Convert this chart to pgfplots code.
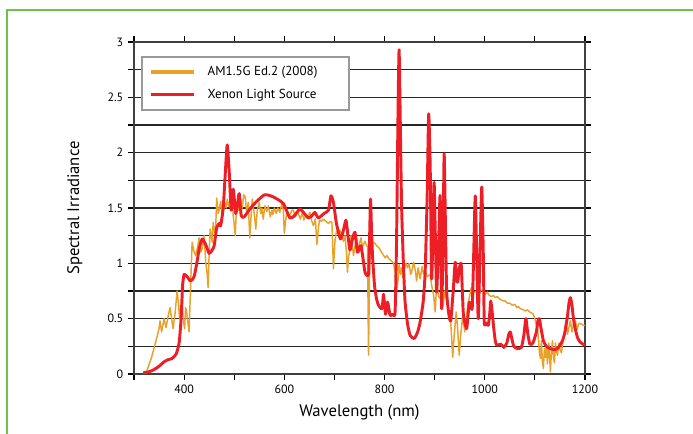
\documentclass[border=0pt]{standalone}
\usepackage{fontspec}
\setmainfont{PT Sans}
\usepackage{pgfplots}
\pgfplotsset{compat=1.18}
\definecolor{amorange}{RGB}{232,162,42}
\definecolor{xered}{RGB}{237,30,38}
\definecolor{framegreen}{RGB}{104,196,74}

\begin{document}
\begin{tikzpicture}
\path[use as bounding box] (0,0) rectangle (519.75pt,324.75pt);
\draw[framegreen, line width=1pt] (5.25pt,-20pt) |- (560pt,317.25pt);
\begin{axis}[
    at={(100.5pt,44.25pt)}, anchor=south west,
    scale only axis, width=338.25pt, height=249pt,
    xmin=300, xmax=1200, ymin=0, ymax=3,
    xtick={400,600,800,1000,1200},
    minor xtick={300,500,700,900,1100},
    ytick={0,0.5,1,1.5,2,2.5,3},
    yticklabels={0,0.5,1,1.5,2,2.5,3},
    minor ytick={0.25,0.75,1.25,1.75,2.25,2.75},
    /pgf/number format/assume math mode=true,
    /pgf/number format/1000 sep={},
    tick align=outside,
    major tick length=4.5pt, minor tick length=4.5pt,
    every tick/.style={black, line width=0.8pt},
    ymajorgrids, yminorgrids,
    major grid style={black!85, line width=0.9pt},
    minor grid style={black!85, line width=0.9pt},
    axis line style={black!75, line width=1.1pt},
    tick label style={font=\fontsize{9}{10}\selectfont},
    label style={font=\fontsize{12.5}{14}\selectfont},
    xlabel={Wavelength (nm)},
    ylabel={Spectral Irradiance},
    xlabel style={at={(axis description cs:0.5,-0.1145)}, anchor=center},
    ylabel style={at={(axis description cs:-0.131,0.5)}, anchor=center},
    legend cell align=left,
    legend image code/.code={\draw[#1, line width=2.4pt] (0pt,0pt) -- (32pt,0pt);},
    legend style={at={(0.015,0.958)}, anchor=north west,
      draw=black!40, line width=1.6pt,
      font=\fontsize{9.8}{11}\selectfont,
      inner xsep=6pt, inner ysep=5pt, row sep=4.5pt,
      /tikz/every odd column/.append style={column sep=7pt}},
  ]
  % AM1.5G reference spectrum
  \addplot[amorange, line width=1.1pt, line join=round] coordinates {
    (325,0.02)(335,0.15)(345,0.32)(350,0.41)(352,0.48)(355,0.38)(358,0.45)(360,0.50)
    (364,0.42)(368,0.52)(372,0.60)(375,0.50)(378,0.41)(382,0.55)(386,0.75)(389,0.62)
    (391,0.50)(394,0.62)(396,0.65)(398,0.50)(401,0.41)(403,0.60)(405,0.56)(408,0.45)
    (410,0.38)(413,0.80)(416,1.19)(419,1.12)(423,1.07)(427,1.15)(430,1.23)(433,1.10)
    (436,1.13)(440,1.25)(443,1.02)(446,0.90)(448,0.78)(450,1.10)(452,1.31)(455,1.22)
    (456,1.19)(458,1.37)(461,1.28)(463,1.32)(465,1.59)(468,1.45)(470,1.49)(473,1.56)
    (476,1.42)(478,1.47)(481,1.55)(484,1.50)(486,1.58)(489,1.52)(493,1.50)(496,1.60)
    (498,1.43)(500,1.35)(502,1.25)(504,1.45)(506,1.52)(509,1.48)(513,1.58)(516,1.50)
    (519,1.62)(522,1.60)(525,1.45)(528,1.55)(531,1.23)(534,1.45)(536,1.58)(538,1.52)
    (540,1.45)(543,1.31)(546,1.48)(550,1.55)(553,1.45)(555,1.50)(558,1.40)(561,1.52)
    (565,1.47)(568,1.52)(572,1.42)(575,1.48)(577,1.44)(580,1.50)(584,1.45)(587,1.50)
    (591,1.46)(595,1.54)(598,1.48)(600,1.27)(603,1.40)(605,1.46)(610,1.42)(615,1.48)
    (618,1.48)(622,1.42)(625,1.46)(628,1.45)(632,1.40)(636,1.46)(639,1.39)(643,1.44)
    (647,1.42)(651,1.46)(655,1.38)(658,1.34)(662,1.40)(665,1.17)(668,1.32)(670,1.39)
    (674,1.38)(678,1.40)(683,1.38)(688,1.36)(692,1.38)(695,1.37)(698,0.95)(701,1.20)
    (704,1.29)(708,1.28)(711,1.30)(714,1.27)(718,1.20)(721,1.25)(724,1.10)(726,0.92)
    (728,1.05)(731,1.13)(733,1.25)(736,1.15)(738,1.07)(742,1.18)(745,1.22)(748,1.10)
    (751,1.20)(753,1.23)(756,1.15)(758,1.17)(761,1.20)(764,1.16)(766,1.15)(768,0.17)
    (770,0.90)(771,1.13)(775,1.16)(778,1.19)(781,1.18)(784,1.16)(789,1.14)(794,1.10)
    (797,1.08)(801,1.05)(805,1.07)(809,1.04)(814,1.02)(818,1.00)(821,0.92)(824,0.75)
    (827,0.85)(829,0.99)(832,0.90)(834,0.96)(837,0.87)(840,0.96)(843,1.00)(846,0.96)
    (849,1.00)(852,0.90)(854,0.92)(858,1.01)(862,0.92)(864,0.84)(867,0.96)(871,0.86)
    (875,0.97)(878,0.90)(881,0.93)(885,0.88)(891,0.90)(894,0.80)(898,0.71)(901,0.56)
    (904,0.81)(908,0.70)(911,0.68)(914,0.72)(917,0.62)(920,0.75)(923,0.68)(927,0.60)
    (931,0.53)(933,0.40)(936,0.15)(939,0.35)(943,0.56)(946,0.40)(949,0.17)(952,0.35)
    (956,0.53)(958,0.45)(960,0.38)(963,0.50)(966,0.62)(970,0.71)(973,0.78)(976,0.72)
    (980,0.74)(984,0.75)(988,0.73)(992,0.76)(997,0.75)(1001,0.72)(1005,0.74)(1009,0.71)
    (1013,0.70)(1017,0.71)(1021,0.69)(1025,0.70)(1029,0.68)(1033,0.67)(1037,0.66)
    (1041,0.66)(1045,0.64)(1050,0.64)(1055,0.62)(1060,0.63)(1064,0.60)(1067,0.61)
    (1071,0.59)(1077,0.58)(1081,0.57)(1085,0.58)(1090,0.56)(1094,0.55)(1097,0.54)
    (1100,0.50)(1103,0.44)(1106,0.38)(1109,0.20)(1111,0.14)(1113,0.30)(1115,0.11)
    (1117,0.05)(1119,0.23)(1121,0.15)(1123,0.25)(1125,0.09)(1128,0.28)(1131,0.02)
    (1133,0.20)(1135,0.30)(1137,0.15)(1139,0.10)(1141,0.28)(1143,0.20)(1145,0.17)
    (1148,0.28)(1150,0.22)(1153,0.19)(1156,0.30)(1159,0.38)(1162,0.48)(1165,0.36)
    (1168,0.42)(1171,0.48)(1174,0.38)(1177,0.45)(1181,0.48)(1184,0.40)(1187,0.45)
    (1190,0.46)(1193,0.45)(1197,0.44)(1200,0.44)
  };
  \addlegendentry{AM1.5G Ed.2 (2008)}
  % Xenon lamp spectrum
  \addplot[xered, line width=2.2pt, line join=round, smooth, tension=0.35] coordinates {
    (318,0.01)(330,0.02)(340,0.04)(350,0.07)(360,0.11)(368,0.13)(376,0.14)(384,0.18)
    (390,0.28)(394,0.50)(397,0.80)(400,0.90)(406,0.88)(413,0.84)(420,0.88)(426,1.02)
    (430,1.13)(436,1.22)(443,1.17)(450,1.09)(456,1.12)(460,1.16)(465,1.32)(470,1.36)
    (473,1.34)(478,1.50)(482,1.80)(486,2.07)(490,1.83)(494,1.48)(498,1.67)(503,1.45)
    (507,1.55)(510,1.63)(514,1.43)(520,1.42)(531,1.49)(545,1.56)(561,1.62)(578,1.60)
    (598,1.54)(611,1.41)(620,1.43)(631,1.49)(640,1.45)(648,1.41)(655,1.43)(661,1.46)
    (668,1.41)(679,1.45)(688,1.48)(693,1.61)(698,1.55)(704,1.36)(712,1.22)(718,1.30)
    (723,1.39)(727,1.25)(731,1.12)(736,1.22)(741,1.28)(746,1.10)(753,1.16)(761,0.92)
    (768,0.90)(770,1.20)(772,1.58)(774,1.30)(776,1.07)(780,0.80)(784,0.68)(788,0.62)
    (795,0.59)(798,0.72)(802,0.54)(806,0.65)(811,0.53)(816,0.54)(821,0.56)(824,1.22)
    (827,2.40)(829,2.93)(831,2.40)(834,1.52)(838,0.95)(841,0.65)(846,0.45)(851,0.35)
    (859,0.32)(866,0.38)(871,0.47)(877,0.65)(881,0.92)(885,1.60)(888,2.35)(891,1.90)
    (894,0.86)(897,1.40)(899,1.73)(902,1.10)(904,0.74)(908,1.20)(911,1.61)(914,0.59)
    (917,1.30)(919,1.99)(922,1.20)(924,0.74)(928,0.55)(932,0.48)(937,0.75)(941,1.01)
    (944,0.85)(946,0.83)(949,0.95)(953,0.99)(957,0.56)(961,0.45)(964,0.41)(967,0.55)
    (969,0.65)(972,0.62)(975,0.60)(978,1.10)(981,1.61)(984,1.05)(987,0.50)(991,1.20)
    (994,1.69)(997,1.10)(999,0.47)(1003,0.46)(1007,0.44)(1010,0.55)(1012,0.66)
    (1015,0.55)(1018,0.41)(1021,0.30)(1024,0.26)(1032,0.27)(1038,0.24)(1044,0.28)
    (1048,0.36)(1051,0.38)(1054,0.32)(1058,0.25)(1065,0.23)(1073,0.24)(1078,0.35)
    (1082,0.50)(1086,0.36)(1090,0.27)(1096,0.28)(1103,0.38)(1106,0.48)(1109,0.50)
    (1112,0.42)(1117,0.30)(1123,0.25)(1130,0.23)(1140,0.22)(1147,0.24)(1155,0.30)
    (1160,0.38)(1165,0.52)(1168,0.64)(1171,0.69)(1174,0.62)(1177,0.50)(1180,0.42)
    (1185,0.33)(1190,0.29)(1196,0.27)(1200,0.26)
  };
  \addlegendentry{\makebox[98pt][l]{Xenon Light Source}}
\end{axis}
\end{tikzpicture}
\end{document}
